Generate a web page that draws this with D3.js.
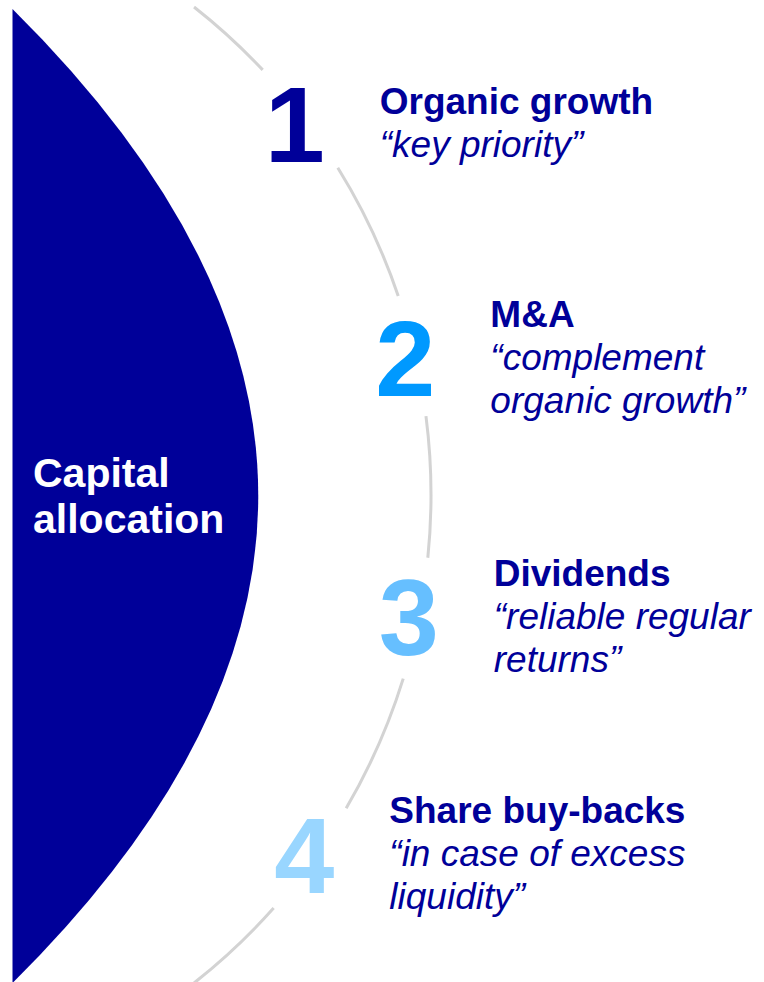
<!DOCTYPE html>
<html>
<head>
<meta charset="utf-8">
<script src="https://cdn.jsdelivr.net/npm/d3@7"></script>
<style>
  html, body { margin: 0; padding: 0; background: #fff; }
  svg { display: block; font-family: "Liberation Sans", Arial, sans-serif; }
</style>
</head>
<body>
<div id="chart"></div>
<script>
// ranks, headings and quotes
var ranks = [1, 2, 3, 4];
var titles = ["Organic growth", "M&A", "Dividends", "Share buy-backs"];
var quotes = [
    ["\u201ckey priority\u201d"],
    ["\u201ccomplement", "organic growth\u201d"],
    ["\u201creliable regular", "returns\u201d"],
    ["\u201cin case of excess", "liquidity\u201d"]
];
var centerLabel = ["Capital", "allocation"];

var width = 764,
    height = 982;

var navy = "#000099";

var svg = d3.select("#chart")
    .append("svg")
    .attr("width", width)
    .attr("height", height);

// colour per rank, fading from navy to pale blue
var colorScale = d3.scaleOrdinal()
    .domain(ranks)
    .range([navy, "#0099ff", "#66bfff", "#99d6ff"]);

// big navy half-disc on the left
var blob = d3.path();
blob.moveTo(12.5, 9);
blob.quadraticCurveTo(504, 496, 12.5, 983);
blob.closePath();
svg.append("path")
    .attr("d", blob.toString())
    .attr("fill", navy);

svg.append("g")
    .selectAll("text")
    .data(centerLabel)
    .enter().append("text")
    .attr("x", 33)
    .attr("y", function (d, i) { return 487 + i * 46; })
    .attr("fill", "#fff")
    .style("font-size", "41px")
    .style("font-weight", "bold")
    .text(function (d) { return d; });

// grey ring, numbers sit on it at evenly spaced angles
var ring = { cx: -190, cy: 495, r: 621 };
var toRad = Math.PI / 180;
var angle = d3.scalePoint()
    .domain(ranks)
    .range([-37.5, 36]);
var gap = 5.7,
    ringStart = -51.8,
    ringEnd = 51.8;

var stops = [ringStart];
ranks.forEach(function (d) {
    stops.push(angle(d) - gap, angle(d) + gap);
});
stops.push(ringEnd);
var segments = d3.range(0, stops.length, 2).map(function (i) { return [stops[i], stops[i + 1]]; });

svg.append("g")
    .selectAll("path")
    .data(segments)
    .enter().append("path")
    .attr("d", function (d) {
        var p = d3.path();
        p.arc(ring.cx, ring.cy, ring.r, d[0] * toRad, d[1] * toRad);
        return p.toString();
    })
    .attr("fill", "none")
    .attr("stroke", "#d3d3d3")
    .attr("stroke-width", 3);

var numR = 611,
    numSize = 108,
    lineH = 43,
    textDx = 85;

var items = svg.append("g")
    .selectAll("g")
    .data(ranks)
    .enter().append("g")
    .attr("transform", function (d) {
        var a = angle(d) * toRad;
        return "translate(" + (ring.cx + numR * Math.cos(a)) + "," + (ring.cy + numR * Math.sin(a)) + ")";
    });

items.append("text")
    .attr("text-anchor", "middle")
    .attr("y", numSize * 0.358)
    .attr("fill", function (d) { return colorScale(d); })
    .style("font-size", numSize + "px")
    .style("font-weight", "bold")
    .text(function (d) { return d; });

var blocks = items.append("text")
    .attr("x", textDx)
    .attr("y", function (d, i) {
        var n = 1 + quotes[i].length;
        return 12 - 21.5 * (n - 1);
    })
    .attr("fill", navy)
    .style("font-size", "37px");

blocks.append("tspan")
    .style("font-weight", "bold")
    .text(function (d, i) { return titles[i]; });

blocks.each(function (d, i) {
    var t = d3.select(this);
    quotes[i].forEach(function (q) {
        t.append("tspan")
            .attr("x", textDx)
            .attr("dy", lineH)
            .style("font-style", "italic")
            .text(q);
    });
});
</script>
</body>
</html>
